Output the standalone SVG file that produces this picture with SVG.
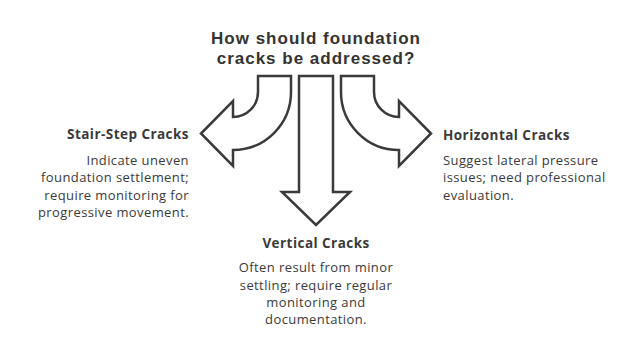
<svg xmlns="http://www.w3.org/2000/svg" width="624" height="359" viewBox="0 0 624 359">
<style>
.arrow{fill:#ffffff;stroke:#3a3a3a;stroke-width:2.5;stroke-linejoin:miter}
.title{font-family:"Liberation Sans",Arial,sans-serif;font-size:17px;font-weight:bold;letter-spacing:1px;fill:#333333}
.head{font-family:"Open Sans","Liberation Sans",sans-serif;font-size:13.5px;font-weight:bold;letter-spacing:0.45px;fill:#3a3a3a}
.desc{font-family:"Open Sans","Liberation Sans",sans-serif;font-size:13px;letter-spacing:0.4px;fill:#3a3a3a}
</style>
<rect width="624" height="359" fill="#ffffff"/>
<g id="title">
<text class="title" x="316" y="44" text-anchor="middle">How should foundation</text>
<text class="title" x="316" y="64" text-anchor="middle">cracks be addressed?</text>
</g>
<g id="connectors">
<path class="arrow" d="M258 76 L291 76 L291 92 A58 58 0 0 1 233 150 L233 166 L201 133.5 L233 101 L233 117 A25 25 0 0 0 258 92 Z"/>
<path class="arrow" d="M299 76 L333 76 L333 192 L350 192 L316 225 L282 192 L299 192 Z"/>
<path class="arrow" d="M374 76 L341 76 L341 92 A58 58 0 0 0 399 150 L399 166 L431 133.5 L399 101 L399 117 A25 25 0 0 1 374 92 Z"/>
</g>
<g id="stair-step">
<text class="head" x="189" y="139" text-anchor="end">Stair-Step Cracks</text>
<text class="desc" x="189" y="165" text-anchor="end">Indicate uneven</text>
<text class="desc" x="189" y="182" text-anchor="end">foundation settlement;</text>
<text class="desc" x="189" y="199.5" text-anchor="end">require monitoring for</text>
<text class="desc" x="189" y="217" text-anchor="end">progressive movement.</text>
</g>
<g id="horizontal">
<text class="head" x="443" y="140">Horizontal Cracks</text>
<text class="desc" x="443" y="165">Suggest lateral pressure</text>
<text class="desc" x="443" y="182">issues; need professional</text>
<text class="desc" x="443" y="199.5">evaluation.</text>
</g>
<g id="vertical">
<text class="head" x="316" y="248" text-anchor="middle">Vertical Cracks</text>
<text class="desc" x="316" y="272" text-anchor="middle">Often result from minor</text>
<text class="desc" x="316" y="289.5" text-anchor="middle">settling; require regular</text>
<text class="desc" x="316" y="307" text-anchor="middle">monitoring and</text>
<text class="desc" x="316" y="324" text-anchor="middle">documentation.</text>
</g>
</svg>
